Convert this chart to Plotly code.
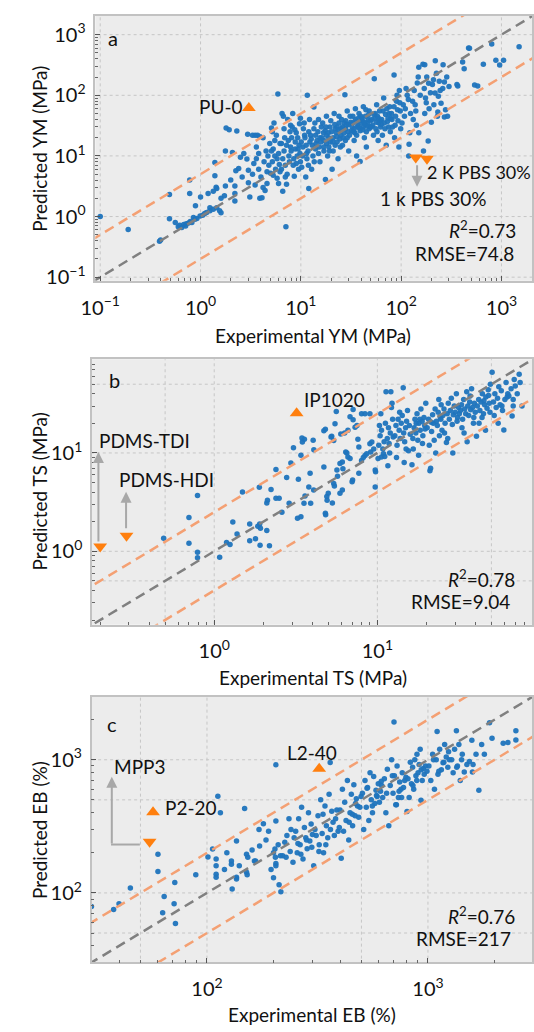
import plotly.graph_objects as go

W, H = 534, 1032
FONT = "Lato"
def px(x):
    return x / W
def py(y):
    return 1 - y / H

# ---------------- data ----------------
# panel a: Young's modulus (MPa), (experimental, predicted)
ym_points = [
    (0.1, 1.0), (0.19, 0.61), (0.39, 0.39), (0.40, 0.41), (0.49, 2.3), (0.49, 0.92),
    (0.56, 0.80), (0.60, 0.68), (0.62, 0.72), (0.65, 0.66), (0.68, 0.74), (0.71, 0.70), (0.72, 0.76),
    (0.76, 0.78), (0.79, 0.83), (0.82, 0.80), (0.85, 0.96), (0.88, 0.90), (0.92, 0.93), (0.99, 1.02),
    (1.05, 1.05), (1.1, 1.12), (1.15, 1.16), (1.24, 1.40), (1.24, 1.24), (1.34, 1.32), (1.45, 1.40),
    (1.55, 1.24), (1.6, 1.15),
    (0.78, 4.0), (0.78, 2.4), (0.89, 1.5), (1.0, 2.1), (1.19, 2.4), (1.39, 4.7), (1.39, 7.8), (1.43, 3.05),
    (1.45, 2.9), (1.34, 2.6), (1.73, 2.2), (1.77, 3.2), (1.77, 12), (1.8, 29), (1.93, 27), (2.08, 11.4),
    (2.25, 5.7), (2.2, 3.2), (2.2, 2.4), (2.2, 1.8), (2.3, 25.7), (2.4, 6.2), (2.9, 8.9), (2.95, 22.7),
    (3.0, 5.8), (3.0, 3.6), (3.1, 2.1), (2.6, 4.5), (2.7, 11), (2.5, 9.5), (2.0, 4.0), (1.6, 2.0),
    (3.3, 22), (3.5, 22), (3.7, 22), (3.9, 21), (3.4, 7.5), (3.6, 9), (3.8, 6.0), (4.0, 4.5), (3.5, 3.3),
    (4.2, 3.0), (3.9, 2.0), (4.1, 2.05), (4.5, 12), (4.3, 8), (4.6, 5.5), (4.8, 7), (3.6, 14), (4.9, 16),
    (4.2, 20), (4.6, 3.5), (4.4, 2.7), (3.3, 5.0), (4.7, 10), (3.8, 11),
    (5.1, 29), (5.9, 105), (5.3, 13), (5.5, 10), (5.2, 8), (5.6, 6), (5.8, 4.3), (5.3, 4.8), (6.0, 3.5),
    (6.2, 16), (5.5, 18), (6.0, 11), (5.7, 22), (6.1, 7.2), (5.0, 5.2), (5.4, 35), (5.2, 25), (5.8, 9),
    (6.2, 5.5), (5.1, 12),
    (6.5, 50), (7.1, 0.68), (6.6, 9), (6.8, 12), (7.0, 7), (7.3, 5), (7.5, 18), (7.8, 25), (6.8, 28),
    (7.2, 3.4), (7.6, 10), (6.4, 6), (7.9, 14), (7.4, 40), (6.6, 2.6), (7.0, 4.5), (7.2, 15), (6.9, 20),
    (6.4, 16), (7.7, 8), (7.9, 32), (6.7, 45),
    (8.3, 50), (8.5, 9), (8.8, 13), (9.0, 7.5), (9.3, 20), (9.6, 15), (8.2, 30), (9.8, 11), (8.6, 4.6),
    (9.0, 24), (9.5, 6.0), (8.8, 17), (9.2, 10), (9.7, 34), (8.0, 12), (9.9, 8), (8.1, 20), (8.7, 27),
    (9.4, 13), (9.9, 42), (8.4, 7),
    (10.5, 14), (11, 20), (11.5, 9), (12, 25), (10.2, 6.5), (11.8, 12), (10.8, 35), (12.3, 17), (11.2, 4.5),
    (11.6, 100), (12, 2.9), (10.4, 10), (11.3, 15), (12.5, 22), (10.1, 17), (10.6, 28), (11.4, 11),
    (12.2, 40), (11.9, 7), (10.9, 22),
    (13, 15), (14, 22), (15, 11), (13.5, 28), (14.5, 18), (15.5, 8), (13.5, 64), (16, 30), (14, 13),
    (15, 40), (12.8, 6), (15.5, 20), (14.2, 16), (13.2, 10), (12.7, 19), (13.8, 35), (14.8, 25),
    (15.2, 14), (15.8, 17), (13.6, 8),
    (17, 18), (18, 22), (19, 14), (17.5, 26), (18.5, 10), (16.5, 35), (19.5, 30), (17, 12), (18, 45),
    (19, 20), (17.6, 4.1), (18, 16), (16.8, 24), (19.7, 17), (16.2, 20), (16.9, 14), (17.8, 30),
    (18.8, 24), (19.3, 12), (19.9, 38),
    (21, 20), (22, 28), (23, 17), (24, 35), (21, 12), (22.5, 24), (23.5, 9), (24, 45), (21.5, 50),
    (22, 15), (25, 22), (20.5, 6), (23, 30), (24.5, 19), (20.2, 25), (20.8, 17), (21.8, 33), (22.8, 21),
    (23.8, 27), (24.8, 14),
    (26, 30), (27, 24), (28, 38), (29, 20), (30, 33), (26, 15), (31, 45), (28, 28), (27.5, 102), (30, 12),
    (29, 55), (32, 26), (27, 35), (30.5, 22), (25.5, 40), (25.3, 28), (26.5, 20), (28.5, 32), (29.5, 25),
    (31.5, 36), (27.8, 18),
    (33, 35), (34, 28), (35, 40), (36, 22), (37, 32), (38, 50), (34, 18), (39, 26), (35, 60), (36, 10),
    (33, 45), (40, 35), (39, 8.1), (37, 30), (34.5, 24), (32.5, 30), (33.5, 25), (36, 37), (37.5, 42),
    (38.5, 29), (39.5, 45),
    (41, 38), (42, 30), (44, 45), (45, 25), (46, 35), (48, 55), (43, 20), (47, 40), (49, 30), (42, 65),
    (45, 14), (44, 33), (48, 28), (40.5, 42), (41.5, 27), (43, 36), (46.5, 31), (47.5, 48), (49.5, 38),
    (44.5, 58),
    (51, 40), (52, 32), (54, 187), (55, 50), (56, 28), (58, 45), (60, 35), (53, 22), (57, 70), (61, 55),
    (59, 18), (62, 38), (55, 42), (50.5, 30), (53.5, 48), (56.5, 36), (59.5, 42), (62.5, 30), (57.5, 25),
    (64, 40), (66, 55), (68, 35), (70, 48), (72, 60), (75, 30), (67, 90), (74, 42), (78, 25), (71, 15),
    (77, 65), (69, 28), (63.5, 33), (65, 22), (73, 37), (76, 50), (79, 42),
    (80, 50), (85, 217), (85, 65), (88, 45), (90, 80), (93, 38), (96, 120), (82, 30), (98, 55), (86, 20),
    (91, 100), (95, 14), (81, 40), (87, 32), (92, 58), (97, 75), (99, 28),
    (105, 70), (110, 60), (115, 100), (119, 10), (120, 15.6), (108, 45), (112, 130), (118, 85), (102, 35),
    (124, 50), (122, 24),
    (130, 80), (135, 120), (140, 55), (145, 160), (150, 24), (155, 100), (132, 40), (138, 70), (148, 200),
    (142, 32), (150, 290),
    (165, 325), (167, 12.1), (170, 130), (175, 90), (180, 200), (186, 17.7), (188, 158), (190, 60),
    (196, 110), (172, 50), (200, 36), (178, 75), (172, 320),
    (205, 150), (210, 180), (218, 109), (225, 230), (235, 96), (240, 170), (212, 70), (230, 45), (245, 120),
    (219, 370),
    (250, 74), (260, 130), (270, 165), (277, 58), (285, 200), (290, 45), (300, 140), (232, 53), (270, 44),
    (262, 320),
    (360, 150), (410, 355), (425, 275), (470, 605), (480, 600), (540, 148), (580, 143), (660, 325),
    (800, 700), (880, 380), (960, 315), (1050, 380), (1500, 630), (367, 142),
]

# panel b: tensile strength (MPa)
ts_points = [
    (0.49, 1.36), (0.70, 2.2), (0.70, 1.21), (0.79, 3.7), (0.79, 0.98), (0.79, 0.86), (1.08, 0.87),
    (1.19, 1.23), (1.25, 1.17), (1.30, 1.98), (1.38, 1.5), (1.49, 4.0), (1.65, 1.9), (1.65, 1.28),
    (1.79, 1.34), (1.90, 1.90), (1.85, 1.80), (1.92, 1.72), (1.89, 4.47), (1.91, 1.15), (2.1, 3.1),
    (2.12, 3.3), (2.1, 1.63), (2.18, 1.14), (2.23, 4.26), (2.39, 6.8), (2.39, 3.46), (2.5, 3.46),
    (2.6, 2.5), (2.78, 5.64), (2.88, 3.08), (2.95, 7.9), (3.06, 11.3), (3.24, 2.17), (3.4, 2.25),
    (3.4, 9.5), (3.45, 14.2), (3.47, 12.9), (3.28, 5.4), (3.55, 3.08), (3.6, 3.66), (3.8, 4.5),
    (3.87, 6.2), (3.9, 3.08), (4.07, 4.2), (4.08, 10.8), (4.7, 7.2), (4.9, 3.6), (4.92, 3.3), (5.0, 3.9),
    (4.8, 2.44), (4.82, 2.35), (5.3, 3.1), (5.2, 14.5), (5.4, 13.4), (5.5, 19.8), (5.7, 5.8), (5.65, 6.7),
    (5.4, 4.9), (5.45, 4.6), (5.9, 3.9), (6.1, 4.2), (5.9, 7.8), (6.1, 8.1), (6.15, 6.9), (6.4, 10.2),
    (6.5, 10), (6.6, 9.1), (6.8, 8.8), (7.0, 5.1), (7.05, 5.3), (6.8, 23.4), (7.1, 21.8), (7.3, 18.3),
    (7.5, 19), (7.7, 11.5), (7.7, 6.2), (8.0, 8.4), (8.2, 9.0), (8.4, 9.4), (8.6, 9.8), (8.0, 25),
    (8.4, 25), (9.0, 25), (9.0, 12.4), (9.1, 10.2), (9.25, 12.9), (9.5, 11), (9.7, 6.7), (9.75, 6.45),
    (9.7, 4.5), (10.1, 8.8), (10.6, 9.1), (10.9, 9.8),
    (5.6, 26.4), (7.1, 27.7), (3.57, 13.8), (4.8, 17.4), (4.7, 16.8), (4.04, 13.5), (5.25, 14.8),
    (5.97, 15.6), (6.3, 16), (6.6, 17), (7.6, 13.8),
    (10.2, 12), (10.4, 15), (10.6, 17), (10.8, 11), (11.0, 13), (11.2, 20), (11.3, 42), (11.5, 14),
    (11.7, 18), (11.9, 10), (12.0, 16), (12.1, 42), (12.2, 29), (12.3, 32), (12.4, 22), (10.5, 25),
    (11.1, 9.2), (11.8, 12.5), (12.5, 14.5), (10.3, 19), (11.6, 7.4),
    (12.8, 15), (13, 19), (13.2, 12), (13.4, 22), (13.6, 17), (13.8, 14), (14, 20), (14.2, 24),
    (14.4, 46), (14.5, 16), (14.7, 13), (14.9, 18), (15.1, 21), (15.3, 27), (15.5, 10.5), (15.7, 19),
    (15.9, 15.5), (13.1, 9), (14.6, 8), (15.0, 11), (13.7, 26),
    (16.3, 7.6), (16.5, 14), (16.8, 18), (17, 22), (17.2, 16), (17.5, 25), (17.7, 13.5), (18, 20),
    (18.3, 17), (18.5, 28), (18.8, 21), (19, 15), (19.3, 23), (19.5, 19), (19.8, 32), (16.6, 11),
    (17.9, 9.5), (18.9, 12.5), (19.6, 17.5), (17.3, 20), (18.2, 22),
    (20.2, 18), (20.6, 22), (21, 6.6), (21.2, 7.0), (21.5, 16.5), (21.8, 24.5), (22, 20), (22.3, 13.5),
    (22.6, 28), (23, 21), (23.3, 19), (23.6, 26), (24, 15), (24.3, 23), (24.6, 31), (24.9, 17),
    (20.8, 12), (22.8, 10), (23.8, 35), (21.4, 20.5), (24.5, 22),
    (25.2, 24), (25.6, 28), (26, 20), (26.5, 12.8), (26.8, 25), (27.2, 32), (27.6, 22), (28, 27),
    (28.4, 36), (28.8, 19.5), (29.2, 24.5), (29.6, 30), (30, 26), (30.5, 40), (31, 23), (31.5, 29),
    (25.8, 16), (27, 14), (29, 10), (30.8, 21), (31.8, 25),
    (32.3, 27), (32.8, 31), (33.3, 22), (33.8, 35), (34.3, 28), (34.8, 25), (35.3, 42), (35.8, 30),
    (36.3, 24), (36.8, 33), (37.3, 27.5), (37.8, 45), (38.3, 29), (38.8, 20), (39.3, 32), (39.8, 26),
    (33, 18), (34, 16), (35.5, 13), (37, 38), (39, 23),
    (40.5, 14.8), (41, 30), (41.8, 35), (42.5, 27), (43.2, 33), (44, 40), (44.7, 25), (45.4, 31),
    (46.2, 37), (47, 28.5), (47.8, 44), (48.5, 32), (49.3, 50), (42, 20), (43.8, 23), (46, 17),
    (48, 38.5), (49, 26), (45, 34),
    (50.5, 66), (51.5, 33), (52.5, 40), (53.5, 29), (54.5, 36), (55.5, 47), (56.5, 31), (57.5, 43),
    (58.5, 27), (59.6, 17.1), (60.5, 35), (61.5, 52), (62.5, 37), (52, 24), (55, 20), (58, 30), (63, 40),
    (64, 38), (66, 45), (67, 23.8), (68, 35), (69, 56), (70, 48), (72, 40), (74, 63), (75, 52), (77, 30),
    (68, 30),
]

# panel c: elongation at break (%)
eb_points = [
    (30, 79), (37.8, 75), (40, 83), (45, 109), (60, 195), (60, 145), (63, 71), (64, 94), (71.5, 120),
    (71, 83), (72, 59), (89, 137), (101, 186), (106, 214), (110, 180), (110, 160), (110, 138), (110, 131),
    (112, 532), (115, 400), (123, 200), (129, 174), (129, 164), (130, 107), (136, 245), (136, 131),
    (136, 127), (148, 430), (151, 195), (153, 185), (151, 143), (152, 137), (164, 174), (166, 174),
    (172, 300), (173, 225), (180, 331), (200, 200), (203, 214), (204, 185), (205, 166), (205, 160),
    (205, 347), (205, 918), (216, 102),
    (160, 210), (185, 250), (190, 290), (195, 150), (140, 160), (120, 150), (230, 270), (225, 240),
    (240, 300), (235, 360), (220, 190), (245, 170),
    (200, 130), (210, 230), (215, 190), (228, 185), (238, 205), (248, 260), (212, 115),
    (252, 290), (256, 200), (260, 360), (264, 230), (268, 440), (272, 180), (276, 310), (280, 260),
    (284, 215), (288, 400), (292, 245), (296, 330), (300, 275), (304, 160), (308, 300), (312, 270),
    (258, 235), (266, 195), (282, 250), (298, 220),
    (318, 380), (322, 230), (327, 500), (332, 280), (337, 200), (342, 450), (347, 320), (352, 260),
    (357, 550), (362, 300), (367, 410), (372, 340), (377, 270), (382, 360), (387, 420), (392, 290),
    (361, 955), (321, 205), (345, 230), (397, 310), (335, 390),
    (400, 420), (405, 182), (410, 600), (415, 290), (420, 480), (426, 350), (432, 700), (438, 250),
    (444, 400), (450, 550), (456, 320), (462, 650), (468, 380), (474, 510), (480, 450), (486, 370),
    (492, 440), (498, 530), (440, 340), (470, 470), (455, 390),
    (505, 560), (512, 300), (519, 700), (526, 440), (533, 620), (540, 350), (547, 800), (554, 500),
    (561, 400), (568, 750), (575, 470), (582, 590), (589, 530), (596, 660), (603, 480), (610, 580),
    (617, 640), (624, 520), (560, 450), (585, 540), (530, 610), (615, 690),
    (635, 720), (645, 400), (655, 850), (665, 320), (675, 640), (685, 1000), (695, 560), (705, 760),
    (715, 460), (725, 900), (735, 520), (745, 680), (755, 600), (765, 800), (702, 1920), (775, 620),
    (785, 700), (795, 740), (720, 460), (740, 580), (760, 520), (690, 760), (650, 560),
    (804, 408), (812, 720), (822, 520), (832, 960), (842, 660), (852, 880), (862, 600), (872, 1000),
    (882, 760), (892, 1100), (902, 800), (912, 920), (922, 1200), (932, 840), (942, 700), (952, 860),
    (930, 497), (962, 780), (975, 900), (990, 820), (855, 640), (890, 700),
    (1010, 900), (1030, 700), (1050, 1100), (1070, 600), (1090, 1000), (1100, 1630), (1110, 780),
    (1130, 1200), (1150, 840), (1170, 950), (1190, 1300), (1210, 1050), (1230, 880), (1250, 1000),
    (1060, 1000), (1120, 820), (1180, 960), (1240, 1150),
    (1280, 1000), (1300, 800), (1320, 1200), (1345, 1650), (1360, 900), (1380, 1300), (1400, 700),
    (1430, 1100), (1460, 810), (1500, 920), (1540, 970), (1580, 1400), (1590, 810), (1600, 920),
    (1420, 1000), (1350, 880),
    (1700, 590), (1650, 1100), (1800, 1100), (1750, 1300), (1950, 1450), (1900, 1900),
    (2190, 1330), (2300, 1350), (2500, 1650), (2500, 1410),
]

# highlighted samples (orange triangles)
ym_up = [(3.03, 62)]                      # PU-0
ym_down = [(140, 9.4), (181, 9.0)]        # 1 k / 2 K PBS 30%
ts_up = [(3.2, 25.4)]                     # IP1020
ts_down = [(0.2, 1.12), (0.29, 1.44)]     # PDMS-TDI, PDMS-HDI
eb_up = [(322, 857), (57, 404)]           # L2-40, P2-20
eb_down = [(55, 242)]                     # MPP3

# grid positions and tick labels
ym_grid = [0.1, 1, 10, 100, 1000]
ts_grid = [0.5, 1, 10, 50]
eb_grid = [50, 100, 500, 1000]
ym_ticks = [0.1, 1, 10, 100, 1000]
ym_ticktext = ["10<sup>\u22121</sup>", "10<sup>0</sup>", "10<sup>1</sup>", "10<sup>2</sup>", "10<sup>3</sup>"]
ts_ticks = [1, 10]
ts_ticktext = ["10<sup>0</sup>", "10<sup>1</sup>"]
eb_ticks = [100, 1000]
eb_ticktext = ["10<sup>2</sup>", "10<sup>3</sup>"]

# band factors for the orange dashed lines
band_factor = [5, 2.5, 2]
line_ends = [1e-3, 1e5]

# ---------------- figure ----------------
BLUE = "#1f74bd"
ORANGE = "#ff7f0e"
BAND = "#f4a073"
GREY = "#808080"
GRID = "#c6c6c6"

fig = go.Figure()

panels = [
    dict(pts=ym_points, up=ym_up, down=ym_down, grid=ym_grid, f=band_factor[0], xa="x", ya="y"),
    dict(pts=ts_points, up=ts_up, down=ts_down, grid=ts_grid, f=band_factor[1], xa="x2", ya="y2"),
    dict(pts=eb_points, up=eb_up, down=eb_down, grid=eb_grid, f=band_factor[2], xa="x3", ya="y3"),
]

for p in panels:
    gx, gy = [], []
    for g in p["grid"]:
        gx += [g, g, None]
        gy += [line_ends[0], line_ends[1], None]
        gx += [line_ends[0], line_ends[1], None]
        gy += [g, g, None]
    fig.add_trace(go.Scatter(x=gx, y=gy, mode="lines", line=dict(color=GRID, width=1, dash="dot"),
                             xaxis=p["xa"], yaxis=p["ya"], hoverinfo="skip", showlegend=False))
    fig.add_trace(go.Scatter(x=[a for a, b in p["pts"]], y=[b for a, b in p["pts"]], mode="markers",
                             marker=dict(color=BLUE, size=5.5, opacity=0.95),
                             xaxis=p["xa"], yaxis=p["ya"], showlegend=False))
    fig.add_trace(go.Scatter(x=line_ends, y=[v * p["f"] for v in line_ends], mode="lines",
                             line=dict(color=BAND, width=2.5, dash="10px,6px"),
                             xaxis=p["xa"], yaxis=p["ya"], showlegend=False))
    fig.add_trace(go.Scatter(x=line_ends, y=[v / p["f"] for v in line_ends], mode="lines",
                             line=dict(color=BAND, width=2.5, dash="10px,6px"),
                             xaxis=p["xa"], yaxis=p["ya"], showlegend=False))
    fig.add_trace(go.Scatter(x=line_ends, y=line_ends, mode="lines",
                             line=dict(color=GREY, width=2.5, dash="10px,6px"),
                             xaxis=p["xa"], yaxis=p["ya"], showlegend=False))
    fig.add_trace(go.Scatter(x=[a for a, b in p["up"]], y=[b for a, b in p["up"]], mode="markers",
                             marker=dict(color=ORANGE, size=12, symbol="triangle-up"),
                             xaxis=p["xa"], yaxis=p["ya"], showlegend=False))
    fig.add_trace(go.Scatter(x=[a for a, b in p["down"]], y=[b for a, b in p["down"]], mode="markers",
                             marker=dict(color=ORANGE, size=12, symbol="triangle-down"),
                             xaxis=p["xa"], yaxis=p["ya"], showlegend=False))


def axis(domain, rng, anchor, tv, tt, standoff):
    return dict(type="log", domain=domain, range=rng, anchor=anchor, showgrid=False, zeroline=False,
                showline=True, mirror=True, linecolor="#c2c2c2", linewidth=1.5,
                ticks="inside", ticklen=5, tickwidth=1, tickcolor="#555",
                tickvals=tv, ticktext=tt, ticklabelstandoff=standoff,
                tickfont=dict(size=20, family=FONT, color="#111"),
                minor=dict(ticks="inside", ticklen=3, tickwidth=1, tickcolor="#666", dtick="D1",
                           showgrid=False))

fig.update_layout(
    width=W, height=H, margin=dict(l=0, r=0, t=0, b=0),
    paper_bgcolor="white", plot_bgcolor="#ececec",
    font=dict(family=FONT, size=19, color="#111"),
    xaxis=axis([82.8 / W, 533 / W], [-1.049, 3.305], "y", ym_ticks, ym_ticktext, 8),
    yaxis=axis([py(282.7), py(16)], [-1.06, 3.31], "x", ym_ticks, ym_ticktext, 4),
    xaxis2=axis([79.4 / W, 533 / W], [-0.749, 1.948], "y2", ts_ticks, ts_ticktext, 8),
    yaxis2=axis([py(629), py(361.7)], [-0.747, 1.953], "x2", ts_ticks, ts_ticktext, 4),
    xaxis3=axis([79 / W, 533 / W], [1.478, 3.471], "y3", eb_ticks, eb_ticktext, 8),
    yaxis3=axis([py(969), py(701.7)], [1.478, 3.472], "x3", eb_ticks, eb_ticktext, 4),
)

# texts
texts = [
    ("a", 101, 38, "center", 20, 0),
    ("PU-0", 236, 107.5, "right", 19, 0),
    ("2 K PBS 30%", 423, 173, "left", 18, 0),
    ("1 k PBS 30%", 374, 200, "left", 19, 0),
    ("<i>R</i><sup>2</sup>=0.73", 519, 231, "right", 19, 0),
    ("RMSE=74.8", 516, 255, "right", 19, 0),
    ("Experimental YM (MPa)", 307, 338, "center", 19, 0),
    ("Predicted YM (MPa)", 25.5, 150, "center", 19, -90),
    ("b", 103, 383, "center", 20, 0),
    ("IP1020", 296, 402, "left", 19, 0),
    ("PDMS-TDI", 85, 444, "left", 19, 0),
    ("PDMS-HDI", 105, 483, "left", 19, 0),
    ("<i>R</i><sup>2</sup>=0.78", 517, 582, "right", 19, 0),
    ("RMSE=9.04", 512, 606, "right", 19, 0),
    ("Experimental TS (MPa)", 307, 682, "center", 19, 0),
    ("Predicted TS (MPa)", 25.5, 495, "center", 19, -90),
    ("c", 100.5, 729, "center", 20, 0),
    ("L2-40", 306, 758, "center", 19, 0),
    ("MPP3", 100, 772, "left", 19, 0),
    ("P2-20", 153, 813, "left", 19, 0),
    ("<i>R</i><sup>2</sup>=0.76", 517, 922, "right", 19, 0),
    ("RMSE=217", 513, 945, "right", 19, 0),
    ("Experimental EB (%)", 306.5, 1021, "center", 19, 0),
    ("Predicted EB (%)", 25.5, 836, "center", 19, -90),
]
for t, x, y, anc, size, ang in texts:
    fig.add_annotation(text=t, x=px(x), y=py(y), xref="paper", yref="paper", showarrow=False,
                       xanchor=anc, yanchor="middle", textangle=ang,
                       font=dict(size=size, family=FONT, color="#111"))

# grey arrows (head position, tail offset in px)
arrows = [(414.5, 188, 0, -23), (86, 455, 0, 91), (114.5, 495, 0, 38), (99.8, 782, 0, 68.3)]
for x, y, ax, ay in arrows:
    fig.add_annotation(text="", x=px(x), y=py(y), xref="paper", yref="paper", showarrow=True,
                       ax=ax, ay=ay, arrowhead=2, arrowsize=1.1, arrowwidth=2, arrowcolor="#a8a8a8",
                       standoff=0, startstandoff=0)
fig.add_shape(type="line", xref="paper", yref="paper", x0=px(99), y0=py(850.3), x1=px(128.7), y1=py(850.3),
              line=dict(color="#a8a8a8", width=2))

fig.write_html("out.html")
